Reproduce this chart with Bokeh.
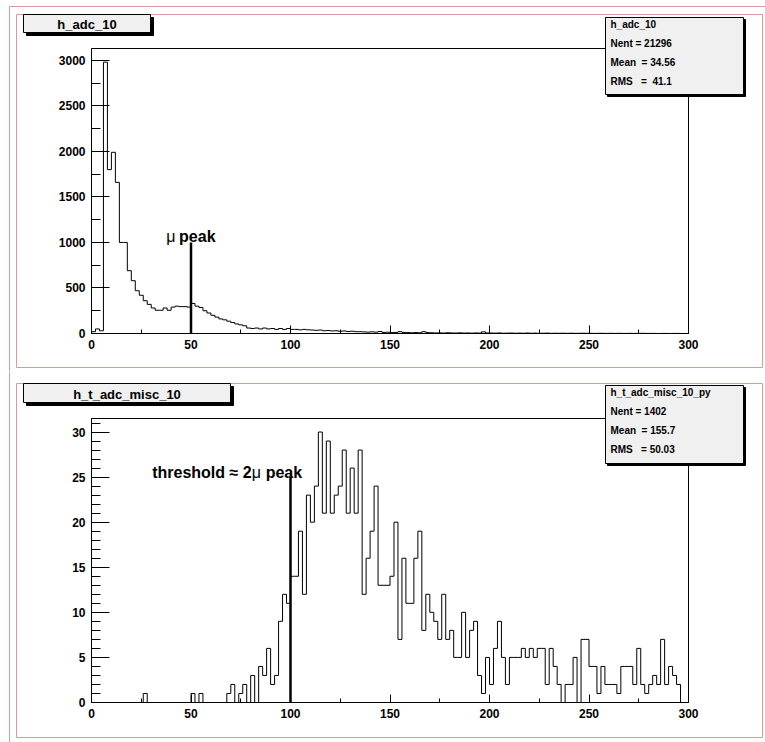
from bokeh.plotting import figure
from bokeh.models import Range1d, LinearAxis, FixedTicker
from bokeh.layouts import column
from bokeh.embed import file_html
from bokeh.resources import INLINE
from bokeh.core.properties import value

# ---------------- data ----------------
bin_edges = list(range(0, 301, 2))

adc_counts = [
    20, 50, 30, 2980, 1800, 1990, 1660, 1000, 1000, 690,
    580, 470, 420, 360, 320, 280, 255, 255, 280, 255,
    290, 300, 295, 295, 290, 330, 300, 285, 250, 225,
    200, 180, 160, 150, 135, 120, 105, 95, 85, 60,
    55, 60, 50, 60, 50, 55, 45, 55, 45, 55,
    45, 45, 40, 45, 40, 38, 35, 38, 30, 33,
    28, 30, 25, 28, 22, 25, 20, 20, 18, 15,
    18, 15, 22, 12, 14, 10, 12, 20, 12, 10,
    8, 10, 8, 20, 10, 8, 6, 7, 5, 8,
    6, 5, 7, 5, 6, 4, 6, 5, 18, 6,
    5, 4, 6, 3, 4, 5, 3, 4, 3, 5,
    3, 4, 2, 3, 4, 2, 3, 2, 3, 2,
    3, 2, 2, 3, 2, 2, 1, 2, 2, 1,
    2, 1, 2, 1, 1, 2, 1, 1, 2, 1,
    1, 1, 0, 1, 1, 0, 1, 1, 0, 0,
]

misc_counts = [
    0, 0, 0, 0, 0, 0, 0, 0, 0, 0,
    0, 0, 0, 1, 0, 0, 0, 0, 0, 0,
    0, 0, 0, 0, 0, 1, 0, 1, 0, 0,
    0, 0, 0, 0, 1, 2, 0, 1, 2, 0,
    3, 0, 4, 3, 6, 2, 3, 9, 12, 11,
    14, 14, 19, 12, 23, 20, 24, 30, 21, 29,
    21, 23, 24, 28, 21, 26, 21, 28, 12, 16,
    19, 24, 13, 13, 13, 14, 20, 7, 16, 11,
    11, 16, 19, 8, 12, 10, 9, 7, 12, 7,
    8, 5, 5, 10, 5, 8, 9, 3, 1, 5,
    2, 6, 9, 5, 2, 5, 5, 5, 6, 5,
    6, 5, 6, 6, 2, 6, 4, 2, 0, 2,
    2, 5, 0, 7, 7, 4, 4, 1, 4, 2,
    2, 2, 1, 4, 4, 4, 2, 6, 2, 1,
    2, 3, 2, 7, 2, 4, 3, 2, 0, 0,
]

x_ticks = [0, 50, 100, 150, 200, 250, 300]
x_minor = [25, 75, 125, 175, 225, 275]
adc_y_ticks = [0, 500, 1000, 1500, 2000, 2500, 3000]
adc_y_minor = [250, 750, 1250, 1750, 2250, 2750]
misc_y_ticks = [0, 5, 10, 15, 20, 25, 30]
misc_y_minor = [v for v in range(1, 32) if v % 5 != 0]

NB = "\u00a0"
adc_title = "h_adc_10"
adc_stats = ["h_adc_10", "Nent = 21296", "Mean" + NB * 2 + "= 34.56", "RMS" + NB * 3 + "=" + NB * 2 + "41.1"]
misc_title = "h_t_adc_misc_10"
misc_stats = ["h_t_adc_misc_10_py", "Nent = 1402", "Mean" + NB * 2 + "= 155.7", "RMS" + NB * 3 + "= 50.03"]

adc_marker_x, adc_marker_top = 50, 1000
misc_marker_x, misc_marker_top = 100, 25

FONT = value("Liberation Sans")
W = 765
PINK = "#d99a9a"


def make_pad(H, y0, counts, ymax, yticks, yminor, frame, pad_box, title, title_box, stats, stats_box):
    """y0 = canvas y of this figure's top edge; all boxes given in canvas pixels."""
    fx0, fx1, fy0, fy1 = frame
    fy0 -= y0
    fy1 -= y0
    sx = (fx1 - fx0) / 300.0
    sy = (fy1 - fy0) / ymax
    p = figure(width=W, height=H,
               x_range=Range1d(-fx0 / sx, (W - fx0) / sx),
               y_range=Range1d(-(H - fy1) / sy, fy1 / sy),
               x_axis_type=None, y_axis_type=None,
               output_backend="svg", toolbar_location=None, min_border=0)
    p.outline_line_color = None
    p.background_fill_color = "white"
    p.border_fill_color = "white"
    p.extra_x_ranges = {"px": Range1d(0, W)}
    p.extra_y_ranges = {"px": Range1d(y0 + H, y0)}   # canvas pixel coordinates
    kw = dict(x_range_name="px", y_range_name="px")

    # canvas edge line (left) and pad border
    p.segment(x0=[9], y0=[max(y0, 6)], x1=[9], y1=[y0 + H], line_color=PINK, **kw)
    if y0 == 0:
        p.segment(x0=[9], y0=[6], x1=[W], y1=[6], line_color=PINK, **kw)
    l, r, t, b = pad_box
    p.quad(left=[l], right=[r], top=[t], bottom=[b],
           fill_color=None, line_color=PINK, line_width=1, **kw)

    # frame
    p.quad(left=[0], right=[300], bottom=[0], top=[ymax],
           fill_color=None, line_color="black", line_width=1)

    # histogram
    p.step(x=bin_edges[:-1] + [bin_edges[-1]], y=counts + [counts[-1]],
           mode="after", line_color="black", line_width=1)

    # axes
    xa = LinearAxis(fixed_location=0, bounds=(0, 300),
                    ticker=FixedTicker(ticks=x_ticks, minor_ticks=x_minor))
    ya = LinearAxis(fixed_location=0, bounds=(0, ymax),
                    ticker=FixedTicker(ticks=yticks, minor_ticks=yminor))
    for ax in (xa, ya):
        ax.axis_line_color = "black"
        ax.major_tick_line_color = "black"
        ax.minor_tick_line_color = "black"
        ax.major_tick_out = 0
        ax.minor_tick_out = 0
        ax.major_label_text_font = "Liberation Sans"
        ax.major_label_text_font_style = "bold"
        ax.major_label_text_font_size = "12px"
        ax.major_label_text_color = "black"
    xa.major_tick_in = 8
    xa.minor_tick_in = 4
    xa.major_label_standoff = 6
    ya.major_tick_in = 18
    ya.minor_tick_in = 9
    ya.major_label_standoff = 6
    p.add_layout(xa, "below")
    p.add_layout(ya, "left")

    # title box with shadow
    l, r, t, b = title_box
    p.quad(left=[l + 3], right=[r + 3], top=[t + 3], bottom=[b + 3], fill_color="black",
           line_color="black", **kw)
    p.quad(left=[l], right=[r], top=[t], bottom=[b], fill_color="#f0f0f0",
           line_color="black", **kw)
    p.text(x=[(l + r) / 2], y=[(t + b) / 2 + 1], text=[title], text_font=FONT,
           text_font_style="bold", text_font_size="13px", text_align="center",
           text_baseline="middle", **kw)

    # stats box with shadow
    l, r, t, b = stats_box
    p.quad(left=[l + 2], right=[r + 2], top=[t + 2], bottom=[b + 2], fill_color="black",
           line_color="black", **kw)
    p.quad(left=[l], right=[r], top=[t], bottom=[b], fill_color="#f0f0f0",
           line_color="black", **kw)
    ys = [t + 7 + 19 * i for i in range(len(stats))]
    p.text(x=[l + 5] * len(stats), y=ys, text=stats, text_font=FONT,
           text_font_style="bold", text_font_size="10px", text_align="left",
           text_baseline="middle", **kw)
    return p


# ---------------- top pad (canvas y 0..371) ----------------
top = make_pad(371, 0, adc_counts, 3130, adc_y_ticks, adc_y_minor, (91, 688, 48, 333),
               (16, 762, 14, 367),
               adc_title, (23, 150, 14, 32), adc_stats, (605, 743, 17, 94))
top.segment(x0=[adc_marker_x], y0=[0], x1=[adc_marker_x], y1=[adc_marker_top],
            line_color="black", line_width=2.5)
top.text(x=[37.5], y=[1060], text=["\u03bc"], text_font=FONT, text_font_size="16px",
         text_baseline="alphabetic", text_align="left")
top.text(x=[44], y=[1060], text=["peak"], text_font=FONT, text_font_style="bold",
         text_font_size="16px", text_baseline="alphabetic", text_align="left")

# ---------------- bottom pad (canvas y 371..742) ----------------
bot = make_pad(371, 371, misc_counts, 31.5, misc_y_ticks, misc_y_minor, (91, 688, 418, 702),
               (16, 762, 383, 737),
               misc_title, (23, 230, 383, 402), misc_stats, (605, 743, 385, 463))
bot.segment(x0=[misc_marker_x], y0=[0], x1=[misc_marker_x], y1=[misc_marker_top],
            line_color="black", line_width=2.5)
bot.text(x=[30.5], y=[25.5], text=["threshold \u2248 2"], text_font=FONT,
         text_font_style="bold", text_font_size="16px", text_baseline="alphabetic",
         text_align="left")
bot.text(x=[80.5], y=[25.5], text=["\u03bc"], text_font=FONT, text_font_size="16px",
         text_baseline="alphabetic", text_align="left")
bot.text(x=[87.5], y=[25.5], text=["peak"], text_font=FONT, text_font_style="bold",
         text_font_size="16px", text_baseline="alphabetic", text_align="left")

layout = column(top, bot, spacing=0)
open("out.html", "w").write(file_html(layout, INLINE))
